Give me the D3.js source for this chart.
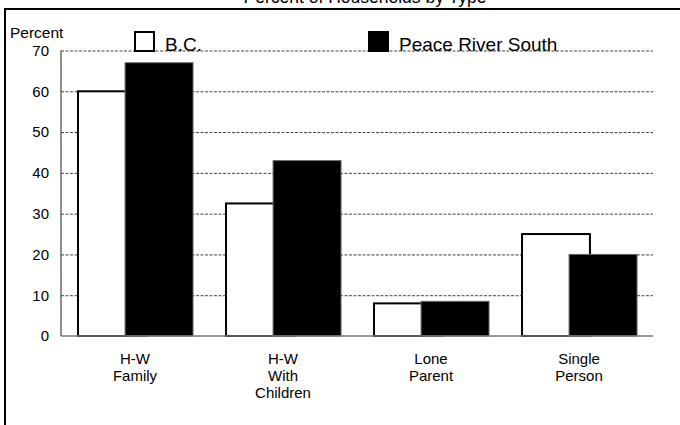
<!DOCTYPE html>
<html>
<head>
<meta charset="utf-8">
<script src="https://cdn.jsdelivr.net/npm/d3@7"></script>
<style>
  body { margin: 0; background: #fff; }
  svg { font-family: "Liberation Sans", Arial, sans-serif; }
</style>
</head>
<body>
<div id="container"></div>
<script>
// data
const categories = ['H-W|Family', 'H-W|With|Children', 'Lone|Parent', 'Single|Person']
const seriesNames = ['B.C.', 'Peace River South']
const bcValues = [60, 32.5, 8, 25]
const prsValues = [67, 43, 8.5, 20]
const yTicks = [0, 10, 20, 30, 40, 50, 60, 70]

const width = 680
const height = 425
const plotLeft = 61, plotRight = 653, plotTop = 50.5, plotBottom = 336

const svg = d3.select('#container')
    .append('svg')
    .attr('width', width)
    .attr('height', height)

// frame + title (title sits mostly above the window)
svg.append('text')
    .attr('x', 365)
    .attr('y', 3)
    .attr('text-anchor', 'middle')
    .style('font-size', '17.5px')
    .text('Percent of Households by Type')

svg.append('path')
    .attr('d', `M5,${height} L5,9 L${width},9`)
    .attr('fill', 'none')
    .attr('stroke', '#000')
    .attr('stroke-width', 2)

const xScale = d3.scaleBand()
    .domain(categories)
    .range([plotLeft, plotRight])

const yScale = d3.scaleLinear()
    .domain([0, 70])
    .range([plotBottom, plotTop])

const bw = xScale.bandwidth()
const barW = bw * 0.459
// overlapping bars, like the original
const xInner = d3.scalePoint()
    .domain(seriesNames)
    .range([bw * 0.115, bw * 0.115 + bw * 0.318])

// gridlines
const grid = svg.append('g')
    .attr('transform', `translate(${plotLeft},0)`)
    .call(d3.axisLeft(yScale).tickValues(yTicks.slice(1)).tickSize(-(plotRight - plotLeft)).tickFormat(''))
grid.select('.domain').remove()
grid.selectAll('line')
    .attr('stroke', '#444')
    .attr('stroke-dasharray', '3,1.5')

// tick labels
const yAxis = svg.append('g')
    .attr('transform', `translate(${plotLeft - 12},0)`)
    .call(d3.axisLeft(yScale).tickValues(yTicks).tickSize(0).tickPadding(0))
yAxis.select('.domain').remove()
yAxis.selectAll('text')
    .style('font-size', '15px')
    .style('font-family', '"Liberation Sans", Arial, sans-serif')
    .attr('fill', '#000')

svg.append('text')
    .attr('x', 10)
    .attr('y', 38)
    .style('font-size', '15.5px')
    .text('Percent')

const rows = categories.map((c, i) => ({cat: c, vals: [bcValues[i], prsValues[i]]}))

// white bars first, black bars on top
seriesNames.forEach((s, k) => {
    svg.selectAll('.bar' + k)
        .data(rows)
        .enter()
        .append('rect')
        .attr('class', 'bar' + k)
        .attr('x', d => xScale(d.cat) + xInner(s))
        .attr('y', d => yScale(d.vals[k]))
        .attr('width', barW)
        .attr('height', d => yScale(0) - yScale(d.vals[k]))
        .attr('fill', k === 0 ? '#fff' : '#000')
        .attr('stroke', k === 0 ? '#000' : '#666')
        .attr('stroke-width', k === 0 ? 2 : 1)
})

// axes lines
svg.append('line')
    .attr('x1', plotLeft).attr('x2', plotLeft)
    .attr('y1', plotTop).attr('y2', plotBottom)
    .attr('stroke', '#444')
    .attr('stroke-width', 1.2)
svg.append('line')
    .attr('x1', plotLeft).attr('x2', plotRight)
    .attr('y1', plotBottom).attr('y2', plotBottom)
    .attr('stroke', '#777')
    .attr('stroke-width', 1.5)

// category labels
const xAxis = svg.append('g')
    .attr('transform', `translate(0,${plotBottom})`)
    .call(d3.axisBottom(xScale).tickSize(0).tickFormat(''))
xAxis.select('.domain').remove()
xAxis.selectAll('.tick text')
    .attr('y', 0)
    .attr('dy', null)
    .attr('fill', '#000')
    .style('font-size', '15px')
    .style('font-family', '"Liberation Sans", Arial, sans-serif')
    .each(function(d) {
        const t = d3.select(this)
        d.split('|').forEach((line, i) => {
            t.append('tspan')
                .attr('x', 0)
                .attr('y', 28 + i * 17)
                .text(line)
        })
    })

// legend
const legend = [
    {name: seriesNames[0], x: 135, fill: '#fff', stroke: '#000'},
    {name: seriesNames[1], x: 369, fill: '#000', stroke: '#000'}
]
legend.forEach(l => {
    svg.append('rect')
        .attr('x', l.x)
        .attr('y', 32)
        .attr('width', 19)
        .attr('height', 19)
        .attr('fill', l.fill)
        .attr('stroke', l.stroke)
        .attr('stroke-width', 2)
    svg.append('text')
        .attr('x', l.x + 30)
        .attr('y', 51)
        .style('font-size', '19px')
        .text(l.name)
})
</script>
</body>
</html>
